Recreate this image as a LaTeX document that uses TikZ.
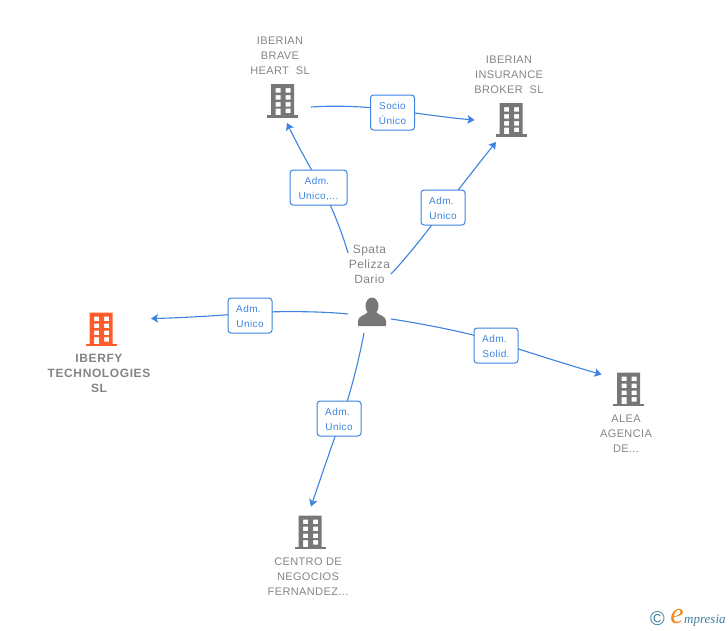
\documentclass[tikz,border=0pt]{standalone}
\usepackage{fontspec}
\setmainfont{Liberation Sans}
\newfontfamily\lblfont[LetterSpace=3.5]{Liberation Sans}
\newfontfamily\boldlblfont[LetterSpace=5]{Liberation Sans Bold}
\newfontfamily\edgefont[LetterSpace=4]{Liberation Sans}
\newfontfamily\logofont{Liberation Serif}
\usetikzlibrary{arrows.meta,backgrounds}
\definecolor{linkblue}{HTML}{3C83E2}
\definecolor{iconGray}{HTML}{777777}
\definecolor{textGray}{HTML}{848484}
\definecolor{iconOrange}{HTML}{FF5C2B}
\definecolor{logoTeal}{HTML}{3F7F9C}
\definecolor{logoOrange}{HTML}{F08A1D}
\newcommand{\twolines}[2]{\rule{0pt}{9.3pt}#1\\#2}
\newcommand{\admword}{Adm.\kern3pt}
\tikzset{
  x=1pt,y=-1pt,
  entity/.style={align=center,text=textGray,inner sep=0pt,
    font=\fontsize{11}{15}\selectfont\lblfont},
  entitybold/.style={entity,font=\fontsize{12}{15}\selectfont\boldlblfont},
  person/.style={entity,font=\fontsize{12}{15}\selectfont\lblfont},
  edgebox/.style={draw=linkblue,line width=1pt,rounded corners=3pt,fill=white,
    minimum height=35pt,align=center,inner sep=0pt,text=linkblue,
    font=\fontsize{10}{15}\selectfont\edgefont},
  narrowbox/.style={edgebox,minimum width=44pt},
  widebox/.style={edgebox,minimum width=57pt},
  conn/.style={draw=linkblue,line width=1.1pt},
  tipped/.style={conn,-{Stealth[length=7pt,width=8.5pt,inset=1.5pt]}},
  pics/bldg/.style={code={
    \fill[#1,even odd rule]
      (-11.5,0) rectangle (11.5,31.5)
      (-7,4) rectangle (-2,8.5) (3,4) rectangle (8,8.5)
      (-7,11) rectangle (-2,15.5) (3,11) rectangle (8,15.5)
      (-7,18) rectangle (-2,22.5) (3,18) rectangle (8,22.5)
      (-7,24.5) rectangle (-2,31.5) (3,24.5) rectangle (8,29);
    \fill[#1] (-15.5,31) rectangle (15.5,33.5);
  }}
}
\begin{document}
\begin{tikzpicture}
\useasboundingbox (0,0) rectangle (728,630);

% icons
\pic at (282.5,84) {bldg=iconGray};
\pic at (511,103) {bldg=iconGray};
\pic at (101,312.5) {bldg=iconOrange};
\pic at (628.5,372.5) {bldg=iconGray};
\pic at (310,515.5) {bldg=iconGray};

% person
\fill[iconGray] (372,306) ellipse (6.5 and 8.5);
\fill[iconGray] (358,326) -- (358,321) .. controls (358,316) and (364,316) .. (368,312)
  -- (376,312) .. controls (380,316) and (386,316) .. (386,321) -- (386,326) -- cycle;

% texts
\node[entity] (tbrave) at (280,56) {IBERIAN\\BRAVE\\HEART\ \ SL};
\node[entity] (tins) at (509,75) {IBERIAN\\INSURANCE\\BROKER\ \ SL};
\node[entitybold] (tiberfy) at (99,373) {IBERFY\\TECHNOLOGIES\\SL};
\node[entity] (talea) at (626,434) {ALEA\\AGENCIA\\DE...};
\node[entity] (tcentro) at (308,577) {CENTRO DE\\NEGOCIOS\\FERNANDEZ...};
\node[person] (tperson) at (369.5,264) {Spata\\Pelizza\\Dario};

% connector labels
\node[narrowbox] (lsocio) at (392.5,112.5) {\twolines{Socio}{Único}};
\node[widebox] (lbrave) at (318.5,187.5) {\twolines{\admword}{Unico,...}};
\node[narrowbox] (lins) at (443,207.5) {\twolines{\admword}{Unico}};
\node[narrowbox] (liberfy) at (250,315.5) {\twolines{\admword}{Unico}};
\node[narrowbox] (lalea) at (496,345.5) {\twolines{\admword}{Solid.}};
\node[narrowbox] (lcentro) at (339,418.5) {\twolines{\admword}{Unico}};

% connector ends
\coordinate (sbrave) at (348,253);
\coordinate (ebrave) at (287,123);
\coordinate (ssocio) at (311,107);
\coordinate (esocio) at (474.5,120);
\coordinate (sins) at (391,274);
\coordinate (eins) at (496,142);
\coordinate (siberfy) at (348,314);
\coordinate (eiberfy) at (151,318.5);
\coordinate (salea) at (391,319);
\coordinate (ealea) at (601.5,374.5);
\coordinate (scentro) at (364,333);
\coordinate (ecentro) at (311,506.5);

\begin{scope}[on background layer]
  \draw[tipped] (sbrave) .. controls (342,232) and (331,205) .. ([xshift=3.5pt]lbrave.center)
     .. controls (313,173) and (298,146) .. (ebrave);
  \draw[tipped] (ssocio) .. controls (340,105) and (370,107) .. ([yshift=2.5pt]lsocio.center)
     .. controls (415,113) and (450,118) .. (esocio);
  \draw[tipped] (sins) .. controls (410,254) and (432,225) .. ([xshift=2pt]lins.center)
     .. controls (458,190) and (480,162) .. (eins);
  \draw[tipped] (siberfy) .. controls (320,311) and (272,311) .. ([yshift=2.5pt]liberfy.center)
     .. controls (228,315) and (180,318) .. (eiberfy);
  \draw[tipped] (salea) .. controls (425,324) and (474,334) .. ([yshift=4pt]lalea.center)
     .. controls (518,349) and (565,364) .. (ealea);
  \draw[tipped] (scentro) .. controls (358,365) and (348,401) .. ([xshift=2.5pt]lcentro.center)
     .. controls (335,436) and (320,480) .. (ecentro);
\end{scope}

% logo
\node[inner sep=0pt,text=logoTeal,font=\fontsize{20}{20}\selectfont] (lcopy) at (657.5,619) {©};
\node[inner sep=0pt,text=logoOrange,font=\fontsize{30}{30}\selectfont\logofont\itshape] (le) at (677,616.5) {e};
\node[inner sep=0pt,anchor=base west,text=logoTeal,font=\fontsize{13}{13}\selectfont\logofont\itshape] (lm) at (684,623) {mpresia};
\end{tikzpicture}
\end{document}
